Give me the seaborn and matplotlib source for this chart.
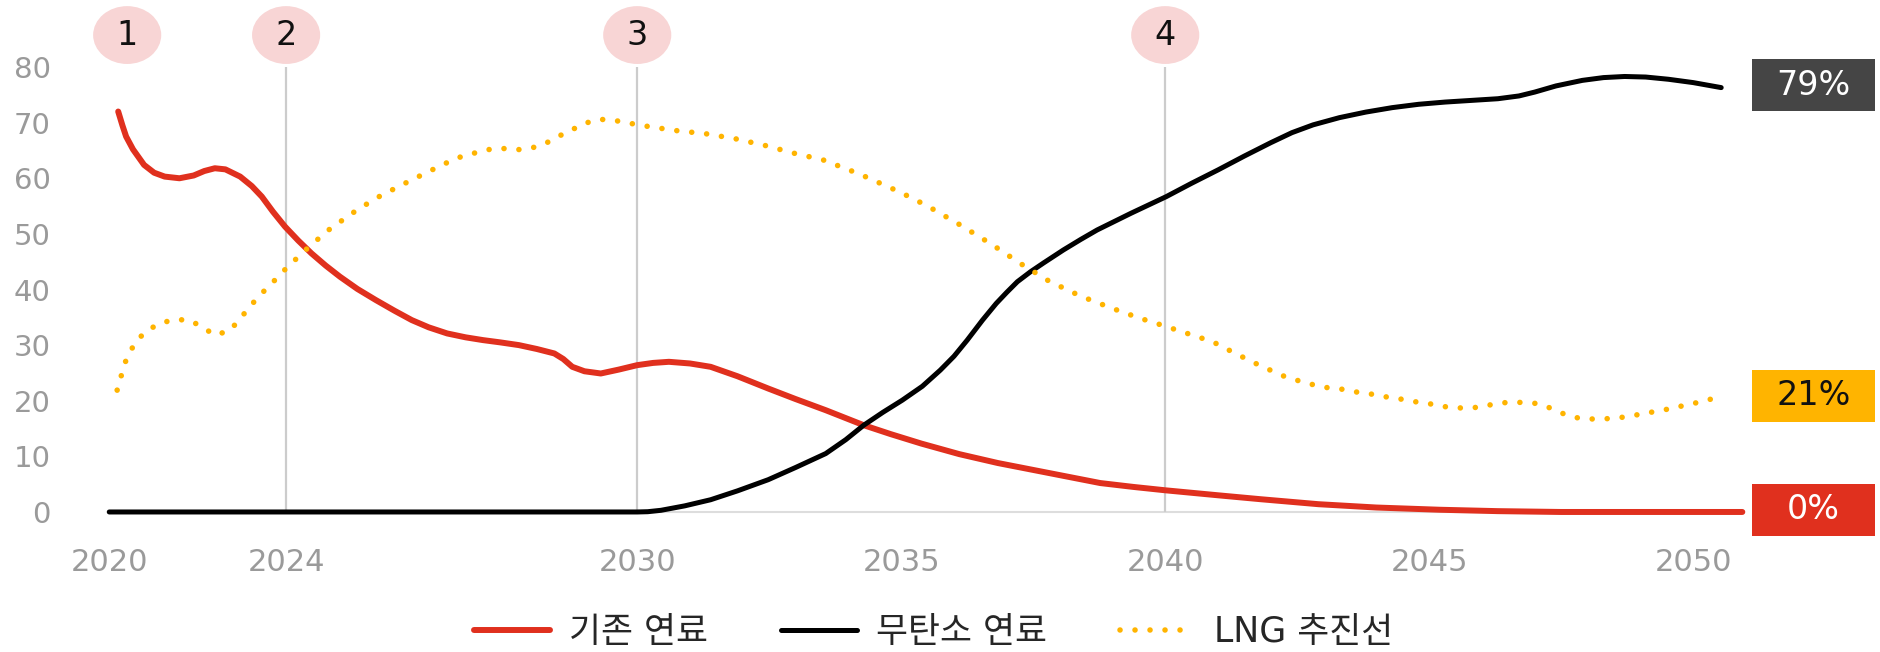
import pandas as pd
import seaborn as sns
import matplotlib.pyplot as plt
from matplotlib.patches import Ellipse, Rectangle

# 기존 연료 (conventional fuel)
conv_years = [2020.17, 2020.25, 2020.32, 2020.45, 2020.66, 2020.85, 2021.05, 2021.33,
              2021.6, 2021.8, 2022.0, 2022.2, 2022.48, 2022.7, 2022.89, 2023.1,
              2023.33, 2023.58, 2023.83, 2024.1, 2024.37, 2024.7, 2025.05, 2025.4,
              2025.73, 2026.05, 2026.4, 2026.75, 2027.08, 2027.4, 2027.76, 2028.1,
              2028.43, 2028.6, 2028.77, 2029.0, 2029.31, 2029.65, 2030.0, 2030.3,
              2030.6, 2031.0, 2031.39, 2031.9, 2032.48, 2033.0, 2033.57, 2034.29,
              2034.8, 2035.38, 2036.1, 2036.83, 2037.8, 2038.77, 2039.4, 2040.0,
              2041.0, 2041.8, 2042.9, 2044.0, 2045.2, 2046.3, 2047.5, 2050.93]
conv_share = [72.0, 69.5, 67.5, 65.2, 62.4, 61.0, 60.3, 60.0,
              60.5, 61.3, 61.8, 61.6, 60.3, 58.6, 56.7, 54.0,
              51.3, 48.8, 46.5, 44.3, 42.3, 40.1, 38.1, 36.2,
              34.5, 33.2, 32.1, 31.4, 30.9, 30.5, 30.0, 29.3,
              28.5, 27.5, 26.1, 25.3, 24.9, 25.6, 26.4, 26.8,
              27.0, 26.7, 26.1, 24.4, 22.2, 20.3, 18.3, 15.6,
              14.0, 12.3, 10.4, 8.8, 7.0, 5.2, 4.5, 3.9,
              3.0, 2.3, 1.4, 0.8, 0.4, 0.15, 0.0, 0.0]

# 무탄소 연료 (zero-carbon fuel)
zero_years = [2020.0, 2030.0, 2030.2, 2030.45, 2030.9, 2031.39, 2031.9, 2032.48,
              2033.0, 2033.57, 2033.95, 2034.29, 2034.65, 2035.02, 2035.4, 2035.74,
              2036.0, 2036.25, 2036.54, 2036.8, 2037.0, 2037.2, 2037.45, 2037.7,
              2038.07, 2038.4, 2038.71, 2039.35, 2040.02, 2040.5, 2041.0, 2041.5,
              2042.0, 2042.4, 2042.8, 2043.3, 2043.8, 2044.3, 2044.8, 2045.3,
              2045.8, 2046.3, 2046.7, 2047.0, 2047.4, 2047.9, 2048.3, 2048.7,
              2049.1, 2049.53, 2050.0, 2050.53]
zero_share = [0.0, 0.0, 0.05, 0.3, 1.1, 2.2, 3.8, 5.8,
              8.0, 10.5, 13.0, 15.6, 17.9, 20.1, 22.6, 25.5,
              28.0, 30.9, 34.5, 37.5, 39.5, 41.4, 43.2, 44.8,
              47.1, 49.0, 50.7, 53.7, 56.7, 59.1, 61.5, 64.0,
              66.4, 68.2, 69.6, 70.9, 71.9, 72.7, 73.3, 73.7,
              74.0, 74.3, 74.8, 75.5, 76.6, 77.6, 78.1, 78.3,
              78.2, 77.8, 77.2, 76.3]

# LNG 추진선
lng_years = [2020.15, 2020.22, 2020.28, 2020.38, 2020.52, 2020.71, 2020.96, 2021.23,
             2021.52, 2021.77, 2022.0, 2022.28, 2022.45, 2022.61, 2022.78, 2022.97,
             2023.16, 2023.35, 2023.73, 2024.14, 2024.6, 2025.05, 2025.56, 2026.07,
             2026.57, 2027.13, 2027.42, 2027.7, 2027.99, 2028.27, 2028.5, 2028.76,
             2029.01, 2029.3, 2029.57, 2029.85, 2030.15, 2030.71, 2031.3, 2031.86,
             2032.42, 2032.97, 2033.52, 2034.2, 2034.98, 2035.5, 2036.1, 2036.7,
             2037.27, 2037.8, 2038.4, 2039.0, 2039.5, 2040.0, 2040.45, 2040.9,
             2041.35, 2041.8, 2042.3, 2042.75, 2043.03, 2043.33, 2043.6, 2043.9,
             2044.18, 2044.46, 2044.75, 2045.04, 2045.32, 2045.6, 2045.9, 2046.18,
             2046.47, 2046.76, 2047.05, 2047.32, 2047.58, 2047.86, 2048.14, 2048.43,
             2048.73, 2049.01, 2049.3, 2049.58, 2049.85, 2050.14, 2050.42]
lng_share = [21.9, 24.2, 26.4, 28.6, 30.8, 32.6, 33.9, 34.6,
             34.5, 33.2, 31.8, 32.6, 34.4, 36.3, 38.2, 40.1,
             41.9, 43.8, 47.2, 50.6, 53.7, 56.4, 58.9, 61.3,
             63.6, 65.1, 65.4, 65.1, 65.4, 66.3, 67.5, 68.7,
             69.9, 70.6, 70.4, 69.9, 69.4, 68.6, 68.0, 67.1,
             65.9, 64.5, 63.3, 60.8, 57.5, 55.0, 51.7, 48.2,
             44.6, 41.5, 38.8, 36.6, 34.9, 33.4, 32.0, 30.6,
             28.4, 26.3, 24.2, 23.0, 22.4, 22.1, 21.6, 21.2,
             20.7, 20.3, 19.8, 19.4, 18.9, 18.7, 18.8, 19.3,
             19.7, 19.7, 19.5, 18.6, 17.5, 16.8, 16.7, 16.8,
             17.1, 17.6, 18.1, 18.6, 19.2, 19.8, 20.5]

series_names = ["기존 연료", "무탄소 연료", "LNG 추진선"]
end_labels = ["0%", "79%", "21%"]

tick_years = [2020, 2023.35, 2030, 2035, 2040, 2045, 2050]
tick_labels = ["2020", "2024", "2030", "2035", "2040", "2045", "2050"]
y_ticks = [0, 10, 20, 30, 40, 50, 60, 70, 80]

milestone_years = [2020.34, 2023.35, 2030.0, 2040.0]
milestone_labels = ["1", "2", "3", "4"]
guide_years = [2023.35, 2030.0, 2040.0]

RED = "#E0301E"
BLACK = "#000000"
YELLOW = "#FFB400"
GREY_TXT = "#9A9A9A"

sns.set_theme(style="white")
plt.rcParams["font.family"] = ["DejaVu Sans", "Noto Sans CJK KR"]

fig = plt.figure(figsize=(18.81, 6.52), dpi=100)
ax = fig.add_axes([0.04684, 0.1977, 0.8814, 0.6995])

ax.axhline(0, xmin=0.013, xmax=0.99, color="#DDDDDD", lw=1.5, zorder=1)
ax.vlines(guide_years, 0, 80.6, color="#CCCCCC", lw=1.6, zorder=1)

conv_df = pd.DataFrame({"year": conv_years, "share": conv_share})
zero_df = pd.DataFrame({"year": zero_years, "share": zero_share})
lng_df = pd.DataFrame({"year": lng_years, "share": lng_share})

sns.lineplot(data=conv_df, x="year", y="share", ax=ax, color=RED, lw=4.3,
             solid_joinstyle="round", label=series_names[0], zorder=3)
sns.lineplot(data=zero_df, x="year", y="share", ax=ax, color=BLACK, lw=3.6,
             solid_joinstyle="round", label=series_names[1], zorder=4)
sns.lineplot(data=lng_df, x="year", y="share", ax=ax, color=YELLOW, lw=4.0,
             linestyle=(0, (0.01, 2.69)), dash_capstyle="round",
             label=series_names[2], zorder=5)

ax.set_xlim(2019.6, 2051.0)
ax.set_ylim(-2, 80)
ax.set_xticks(tick_years)
ax.set_xticklabels(tick_labels)
ax.set_yticks(y_ticks)
ax.tick_params(axis="y", length=0, pad=27, labelsize=21, labelcolor=GREY_TXT)
ax.tick_params(axis="x", length=0, pad=18, labelsize=22, labelcolor=GREY_TXT)
ax.set_xlabel("")
ax.set_ylabel("")
sns.despine(ax=ax, left=True, bottom=True)

# numbered milestones
for yr, lab in zip(milestone_years, milestone_labels):
    ax.add_patch(Ellipse((yr, 85.75), 1.29, 10.4, facecolor="#F8D5D5",
                         edgecolor="none", clip_on=False, zorder=6))
    ax.text(yr, 85.75, lab, ha="center", va="center", fontsize=24,
            color="#111111", clip_on=False, zorder=7)

# end-of-line value boxes
trans = ax.get_yaxis_transform()
box_face = ["#E0301E", "#454545", "#FFB400"]
box_text = ["white", "white", "#111111"]
last_vals = [conv_share[-1], zero_share[-1], lng_share[-1]]
for val, lab, face, txt_col in zip(last_vals, end_labels, box_face, box_text):
    yc = val + 0.4
    ax.add_patch(Rectangle((1.0036, yc - 4.67), 0.0742, 9.35, transform=trans,
                           facecolor=face, edgecolor="none", clip_on=False, zorder=6))
    ax.text(1.0036 + 0.0371, yc, lab, transform=trans, ha="center", va="center",
            fontsize=24, color=txt_col, clip_on=False, zorder=7)

ax.get_legend().remove()
handles, labels = ax.get_legend_handles_labels()
fig.legend(handles, labels, loc="center", bbox_to_anchor=(0.4965, 0.031), ncol=3,
           frameon=False, fontsize=25, handlelength=2.18, handletextpad=0.55,
           columnspacing=2.1)

fig.savefig("out.png", dpi=100)
